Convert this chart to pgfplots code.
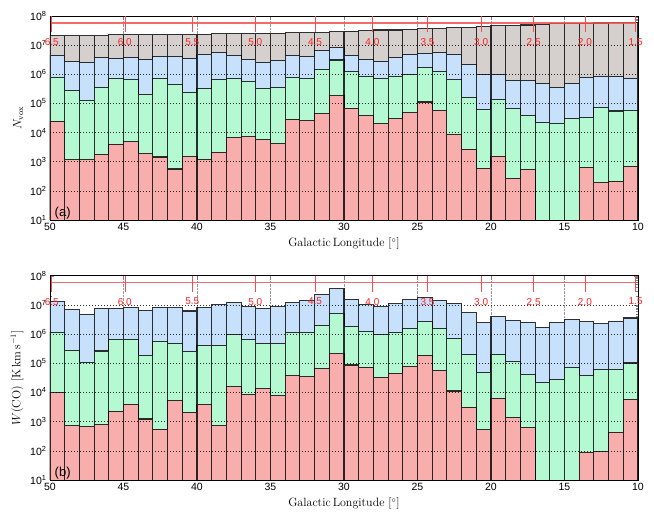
\documentclass[border=0pt]{standalone}
\usepackage{pgfplots}
\pgfplotsset{compat=1.18}
\usepackage{pgfplotstable}
\usepackage{fontspec}
\setsansfont{Liberation Sans}
\definecolor{cgray}{HTML}{D5D0CD}
\definecolor{cblue}{HTML}{C7E1FD}
\definecolor{cgreen}{HTML}{B5F9D2}
\definecolor{cred}{HTML}{F9AEAE}
\definecolor{rline}{HTML}{F25050}
\definecolor{rtext}{HTML}{FF2020}

\pgfplotstableread{
x gray blue green red
49.5 2.09e7 4.57e6 7.94e5 2.40e4
48.5 2.09e7 2.69e6 2.88e5 1.15e3
47.5 2.09e7 2.51e6 1.26e5 1.15e3
46.5 2.09e7 3.63e6 3.47e5 1.78e3
45.5 2.24e7 3.47e6 7.08e5 3.98e3
44.5 2.24e7 3.80e6 6.76e5 4.90e3
43.5 2.24e7 3.16e6 2.09e5 1.91e3
42.5 2.29e7 4.07e6 7.08e5 1.45e3
41.5 2.29e7 4.07e6 4.47e5 5.62e2
40.5 2.29e7 3.47e6 2.40e5 1.48e3
39.5 2.34e7 4.90e6 3.16e5 1.15e3
38.5 2.45e7 5.50e6 6.46e5 2.09e3
37.5 2.45e7 4.47e6 7.24e5 6.76e3
36.5 2.51e7 3.24e6 5.62e5 7.24e3
35.5 2.51e7 2.57e6 3.24e5 5.89e3
34.5 2.51e7 2.95e6 3.55e5 4.17e3
33.5 2.63e7 4.47e6 7.94e5 2.88e4
32.5 2.63e7 4.07e6 7.41e5 2.57e4
31.5 2.69e7 6.31e6 1.41e6 4.37e4
30.5 2.88e7 8.51e6 3.09e6 1.86e5
29.5 3.02e7 4.47e6 1.20e6 6.92e4
28.5 3.16e7 3.24e6 8.32e5 3.89e4
27.5 3.31e7 2.82e6 7.08e5 2.00e4
26.5 3.31e7 3.80e6 8.71e5 2.95e4
25.5 3.47e7 4.68e6 1.02e6 4.79e4
24.5 3.72e7 5.25e6 1.66e6 1.12e5
23.5 3.72e7 5.50e6 1.26e6 5.75e4
22.5 3.89e7 4.90e6 6.46e5 8.51e3
21.5 4.07e7 2.14e6 1.62e5 2.69e3
20.5 4.37e7 1.02e6 6.03e4 5.89e2
19.5 4.57e7 1.02e6 1.38e5 1.55e3
18.5 4.79e7 6.17e5 6.76e4 2.69e2
17.5 4.90e7 6.17e5 3.89e4 5.50e2
16.5 5.25e7 4.79e5 2.19e4 nan
15.5 5.37e7 3.55e5 2.09e4 nan
14.5 5.62e7 4.79e5 3.02e4 nan
13.5 5.62e7 7.94e5 3.31e4 6.46e2
12.5 5.75e7 8.71e5 7.41e4 1.91e2
11.5 5.89e7 8.32e5 5.50e4 2.14e2
10.5 5.89e7 7.41e5 5.62e4 7.08e2
}\toptab

\pgfplotstableread{
x blue green red
49.5 1.29e7 1.12e6 9.77e3
48.5 6.92e6 2.75e5 7.24e2
47.5 4.68e6 1.05e5 6.76e2
46.5 7.41e6 2.63e5 7.76e2
45.5 7.59e6 6.61e5 2.29e3
44.5 8.13e6 6.76e5 3.89e3
43.5 6.46e6 1.86e5 1.23e3
42.5 8.32e6 5.50e5 5.50e2
41.5 7.94e6 4.90e5 5.13e3
40.5 6.17e6 2.57e5 2.09e3
39.5 8.13e6 3.98e5 3.89e3
38.5 1.00e7 4.17e5 7.24e2
37.5 1.17e7 9.55e5 1.58e4
36.5 8.91e6 6.46e5 8.51e3
35.5 7.59e6 4.68e5 1.35e4
34.5 8.71e6 4.68e5 7.59e3
33.5 1.17e7 1.15e6 3.80e4
32.5 1.41e7 1.12e6 3.39e4
31.5 2.29e7 2.04e6 6.46e4
30.5 3.63e7 5.01e6 2.14e5
29.5 1.58e7 1.82e6 8.71e4
28.5 1.00e7 1.23e6 7.41e4
27.5 8.71e6 9.55e5 3.31e4
26.5 1.10e7 1.15e6 4.47e4
25.5 1.51e7 1.55e6 7.59e4
24.5 1.74e7 2.63e6 1.91e5
23.5 1.41e7 1.55e6 5.75e4
22.5 1.12e7 6.92e5 1.12e4
21.5 5.37e6 1.95e5 3.16e3
20.5 2.40e6 4.90e4 5.25e2
19.5 4.07e6 2.00e5 6.31e3
18.5 2.82e6 1.12e5 1.41e3
17.5 2.51e6 4.27e4 6.17e2
16.5 1.74e6 2.19e4 nan
15.5 2.40e6 2.75e4 nan
14.5 3.16e6 7.24e4 nan
13.5 2.69e6 3.80e4 87.1
12.5 2.24e6 6.17e4 93.3
11.5 2.69e6 6.17e4 4.27e2
10.5 3.55e6 1.02e5 5.75e3
}\bottab

\tikzset{
  hgrid/.style={black, line width=0.6pt, dash pattern=on 1.2pt off 1.8pt, opacity=0.8},
  rtick/.style={rline, line width=0.6pt},
  rlab/.style={text=rtext, font=\sffamily\fontsize{10}{11}\selectfont, inner sep=0pt},
  bars/.style={ybar, bar width=1, draw=black, draw opacity=0.8, line width=1.05pt, fill=#1},
}

\begin{document}
\begin{tikzpicture}
\begin{axis}[
    at={(50pt,300pt)}, anchor=south west,
    scale only axis, width=588pt, height=204pt,
    ymode=log, ymin=10, ymax=1e8,
    xmin=10, xmax=50, x dir=reverse,
    xtick={10,15,20,25,30,35,40,45,50},
    ytick={1e1,1e2,1e3,1e4,1e5,1e6,1e7,1e8},
    minor ytick={20,30,40,50,60,70,80,90,200,300,400,500,600,700,800,900,2e3,3e3,4e3,5e3,6e3,7e3,8e3,9e3,2e4,3e4,4e4,5e4,6e4,7e4,8e4,9e4,2e5,3e5,4e5,5e5,6e5,7e5,8e5,9e5,2e6,3e6,4e6,5e6,6e6,7e6,8e6,9e6,2e7,3e7,4e7,5e7,6e7,7e7,8e7,9e7},
    yticklabels={10\textsuperscript{1},10\textsuperscript{2},10\textsuperscript{3},10\textsuperscript{4},10\textsuperscript{5},10\textsuperscript{6},10\textsuperscript{7},10\textsuperscript{8}},
    xticklabel style={font=\sffamily\fontsize{10.5}{12}\selectfont},
    yticklabel style={font=\sffamily\fontsize{10.5}{12}\selectfont},
    /pgf/number format/assume math mode=true,
    xmajorgrids, grid style={gray!80, densely dotted, line width=0.6pt},
    clip=true, clip mode=individual,
    tick align=inside,
    major tick length=4pt, minor tick length=2pt,
    label style={font=\fontsize{12}{14}\selectfont},
    axis line style={line width=0.8pt},
    xlabel={Galactic\,Longitude [$^\circ$]},
    ylabel={$N_{\mathrm{vox}}$}]
\addplot[bars=cgray] table[x=x, y=gray] {\toptab};
\addplot[bars=cblue] table[x=x, y=blue] {\toptab};
\addplot[bars=cgreen] table[x=x, y=green] {\toptab};
\addplot[bars=cred] table[x=x, y=red] {\toptab};
\draw[hgrid] (axis cs:50,1e2) -- (axis cs:10,1e2);
\draw[hgrid] (axis cs:50,1e3) -- (axis cs:10,1e3);
\draw[hgrid] (axis cs:50,1e4) -- (axis cs:10,1e4);
\draw[hgrid] (axis cs:50,1e5) -- (axis cs:10,1e5);
\draw[hgrid] (axis cs:50,1e6) -- (axis cs:10,1e6);
\draw[hgrid] (axis cs:50,1e7) -- (axis cs:10,1e7);
\draw[rline, line width=1.3pt, opacity=0.85] (axis cs:49.88,5.8e7) -- (axis cs:10.16,5.8e7);
\draw[rtick] (axis cs:49.88,1e8) -- (axis cs:49.88,2.8e7);
\draw[rtick] (axis cs:44.91,1e8) -- (axis cs:44.91,2.8e7);
\draw[rtick] (axis cs:40.32,1e8) -- (axis cs:40.32,2.8e7);
\draw[rtick] (axis cs:36.03,1e8) -- (axis cs:36.03,2.8e7);
\draw[rtick] (axis cs:31.97,1e8) -- (axis cs:31.97,2.8e7);
\draw[rtick] (axis cs:28.07,1e8) -- (axis cs:28.07,2.8e7);
\draw[rtick] (axis cs:24.32,1e8) -- (axis cs:24.32,2.8e7);
\draw[rtick] (axis cs:20.67,1e8) -- (axis cs:20.67,2.8e7);
\draw[rtick] (axis cs:17.10,1e8) -- (axis cs:17.10,2.8e7);
\draw[rtick] (axis cs:13.61,1e8) -- (axis cs:13.61,2.8e7);
\draw[rtick] (axis cs:10.16,1e8) -- (axis cs:10.16,2.8e7);
\node[rlab] at (axis cs:49.88,1.3e7) {6.5};
\node[rlab] at (axis cs:44.91,1.3e7) {6.0};
\node[rlab] at (axis cs:40.32,1.3e7) {5.5};
\node[rlab] at (axis cs:36.03,1.3e7) {5.0};
\node[rlab] at (axis cs:31.97,1.3e7) {4.5};
\node[rlab] at (axis cs:28.07,1.3e7) {4.0};
\node[rlab] at (axis cs:24.32,1.3e7) {3.5};
\node[rlab] at (axis cs:20.67,1.3e7) {3.0};
\node[rlab] at (axis cs:17.10,1.3e7) {2.5};
\node[rlab] at (axis cs:13.61,1.3e7) {2.0};
\node[rlab] at (axis cs:10.16,1.3e7) {1.5};
\node[anchor=south west, inner sep=1pt, font=\sffamily\fontsize{13}{15}\selectfont] at (rel axis cs:0.006,0.0) {(a)};
\end{axis}

\begin{axis}[
    at={(50pt,40pt)}, anchor=south west,
    scale only axis, width=588pt, height=204.3pt,
    ymode=log, ymin=10, ymax=1e8,
    xmin=10, xmax=50, x dir=reverse,
    xtick={10,15,20,25,30,35,40,45,50},
    ytick={1e1,1e2,1e3,1e4,1e5,1e6,1e7,1e8},
    minor ytick={20,30,40,50,60,70,80,90,200,300,400,500,600,700,800,900,2e3,3e3,4e3,5e3,6e3,7e3,8e3,9e3,2e4,3e4,4e4,5e4,6e4,7e4,8e4,9e4,2e5,3e5,4e5,5e5,6e5,7e5,8e5,9e5,2e6,3e6,4e6,5e6,6e6,7e6,8e6,9e6,2e7,3e7,4e7,5e7,6e7,7e7,8e7,9e7},
    yticklabels={10\textsuperscript{1},10\textsuperscript{2},10\textsuperscript{3},10\textsuperscript{4},10\textsuperscript{5},10\textsuperscript{6},10\textsuperscript{7},10\textsuperscript{8}},
    xticklabel style={font=\sffamily\fontsize{10.5}{12}\selectfont},
    yticklabel style={font=\sffamily\fontsize{10.5}{12}\selectfont},
    /pgf/number format/assume math mode=true,
    xmajorgrids, grid style={gray!80, densely dotted, line width=0.6pt},
    clip=true, clip mode=individual,
    tick align=inside,
    major tick length=4pt, minor tick length=2pt,
    label style={font=\fontsize{12}{14}\selectfont},
    axis line style={line width=0.8pt},
    xlabel={Galactic\,Longitude [$^\circ$]},
    ylabel={$W(\mathrm{CO})$ [K\,km\,s$^{-1}$]}]
\addplot[bars=cblue] table[x=x, y=blue] {\bottab};
\addplot[bars=cgreen] table[x=x, y=green] {\bottab};
\addplot[bars=cred] table[x=x, y=red] {\bottab};
\draw[hgrid] (axis cs:50,1e2) -- (axis cs:10,1e2);
\draw[hgrid] (axis cs:50,1e3) -- (axis cs:10,1e3);
\draw[hgrid] (axis cs:50,1e4) -- (axis cs:10,1e4);
\draw[hgrid] (axis cs:50,1e5) -- (axis cs:10,1e5);
\draw[hgrid] (axis cs:50,1e6) -- (axis cs:10,1e6);
\draw[hgrid] (axis cs:50,1e7) -- (axis cs:10,1e7);
\draw[rline, line width=1.3pt, opacity=0.85] (axis cs:49.88,5.8e7) -- (axis cs:10.16,5.8e7);
\draw[rtick] (axis cs:49.88,1e8) -- (axis cs:49.88,2.8e7);
\draw[rtick] (axis cs:44.91,1e8) -- (axis cs:44.91,2.8e7);
\draw[rtick] (axis cs:40.32,1e8) -- (axis cs:40.32,2.8e7);
\draw[rtick] (axis cs:36.03,1e8) -- (axis cs:36.03,2.8e7);
\draw[rtick] (axis cs:31.97,1e8) -- (axis cs:31.97,2.8e7);
\draw[rtick] (axis cs:28.07,1e8) -- (axis cs:28.07,2.8e7);
\draw[rtick] (axis cs:24.32,1e8) -- (axis cs:24.32,2.8e7);
\draw[rtick] (axis cs:20.67,1e8) -- (axis cs:20.67,2.8e7);
\draw[rtick] (axis cs:17.10,1e8) -- (axis cs:17.10,2.8e7);
\draw[rtick] (axis cs:13.61,1e8) -- (axis cs:13.61,2.8e7);
\draw[rtick] (axis cs:10.16,1e8) -- (axis cs:10.16,2.8e7);
\node[rlab] at (axis cs:49.88,1.3e7) {6.5};
\node[rlab] at (axis cs:44.91,1.3e7) {6.0};
\node[rlab] at (axis cs:40.32,1.3e7) {5.5};
\node[rlab] at (axis cs:36.03,1.3e7) {5.0};
\node[rlab] at (axis cs:31.97,1.3e7) {4.5};
\node[rlab] at (axis cs:28.07,1.3e7) {4.0};
\node[rlab] at (axis cs:24.32,1.3e7) {3.5};
\node[rlab] at (axis cs:20.67,1.3e7) {3.0};
\node[rlab] at (axis cs:17.10,1.3e7) {2.5};
\node[rlab] at (axis cs:13.61,1.3e7) {2.0};
\node[rlab] at (axis cs:10.16,1.3e7) {1.5};
\node[anchor=south west, inner sep=1pt, font=\sffamily\fontsize{13}{15}\selectfont] at (rel axis cs:0.006,0.0) {(b)};
\end{axis}
\pgfresetboundingbox
\path[use as bounding box] (0pt,0pt) rectangle (654pt,520pt);
\end{tikzpicture}
\end{document}
